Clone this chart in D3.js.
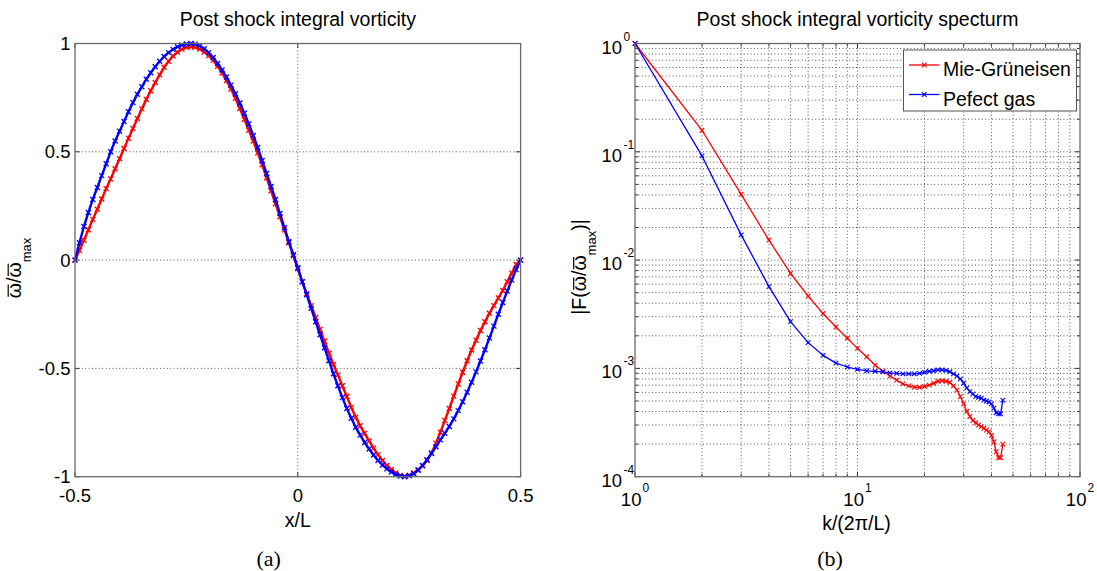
<!DOCTYPE html>
<html><head><meta charset="utf-8">
<script src="https://cdn.jsdelivr.net/npm/d3@7"></script>
<style>
html,body{margin:0;padding:0;background:#fff;}
svg{display:block;}
text{font-family:"Liberation Sans",Arial,Helvetica,sans-serif;fill:#000;}
</style>
</head><body>
<svg id="chart" width="1097" height="571"></svg>
<script>
// ---------------- data ----------------
const xSamples = d3.range(101).map(i => +(-0.5 + i * 0.01).toFixed(2));
const mieVorticity = [
  0, 0.045, 0.092, 0.14, 0.188, 0.235, 0.282, 0.33, 0.375, 0.422,
  0.468, 0.515, 0.562, 0.608, 0.654, 0.698, 0.742, 0.782, 0.82, 0.855,
  0.89, 0.918, 0.942, 0.96, 0.974, 0.982, 0.985, 0.982, 0.974, 0.961,
  0.944, 0.922, 0.895, 0.864, 0.829, 0.79, 0.747, 0.70, 0.65, 0.60,
  0.55, 0.495, 0.44, 0.38, 0.32, 0.26, 0.20, 0.14, 0.08, 0.02,
  -0.04, -0.10, -0.155, -0.21, -0.265, -0.32, -0.375, -0.43, -0.482, -0.53,
  -0.58, -0.63, -0.68, -0.725, -0.765, -0.80, -0.835, -0.868, -0.898, -0.925,
  -0.948, -0.967, -0.983, -0.994, -0.998, -0.993, -0.983, -0.968, -0.95, -0.925,
  -0.89, -0.845, -0.795, -0.74, -0.685, -0.628, -0.572, -0.518, -0.465, -0.415,
  -0.37, -0.325, -0.285, -0.245, -0.21, -0.175, -0.14, -0.10, -0.06, -0.02,
  0
];
const perfectVorticity = [
  0, 0.08, 0.155, 0.22, 0.28, 0.335, 0.39, 0.445, 0.50, 0.55,
  0.595, 0.64, 0.685, 0.727, 0.766, 0.80, 0.835, 0.865, 0.893, 0.918,
  0.94, 0.958, 0.973, 0.985, 0.993, 0.998, 1.0, 0.997, 0.989, 0.976,
  0.958, 0.935, 0.908, 0.878, 0.845, 0.808, 0.768, 0.725, 0.678, 0.628,
  0.575, 0.52, 0.46, 0.40, 0.34, 0.28, 0.215, 0.15, 0.085, 0.025,
  -0.035, -0.10, -0.16, -0.222, -0.285, -0.345, -0.405, -0.465, -0.525, -0.58,
  -0.635, -0.685, -0.73, -0.772, -0.808, -0.842, -0.872, -0.90, -0.925, -0.946,
  -0.964, -0.978, -0.99, -0.997, -1.0, -0.996, -0.986, -0.97, -0.948, -0.922,
  -0.893, -0.862, -0.83, -0.80, -0.768, -0.733, -0.695, -0.654, -0.61, -0.564,
  -0.516, -0.466, -0.414, -0.36, -0.305, -0.25, -0.196, -0.143, -0.092, -0.044,
  0
];
const waveNumbers = d3.range(1, 46);
const mieSpectrum = [
  1.0, 0.158, 0.0405, 0.0153, 0.00755, 0.00466, 0.00321, 0.00241, 0.00190, 0.00153,
  0.00128, 0.00107, 0.00094, 0.00085, 0.00078, 0.00072, 0.00069, 0.00067, 0.00067, 0.00068,
  0.00070, 0.00073, 0.00076, 0.00077, 0.00076, 0.00074, 0.00069, 0.00063, 0.00055, 0.00047,
  0.00040, 0.00036, 0.00033, 0.000315, 0.00030, 0.00029, 0.00028, 0.00027, 0.00026, 0.00024,
  0.00021, 0.00017, 0.00015, 0.00015, 0.00020
];
const perfectSpectrum = [
  1.0, 0.0916, 0.0171, 0.00569, 0.00270, 0.00173, 0.00132, 0.00112, 0.00103, 0.00098,
  0.00095, 0.00094, 0.00093, 0.00091, 0.00090, 0.00089, 0.00089, 0.00089, 0.00090, 0.00092,
  0.00094, 0.00095, 0.00097, 0.00097, 0.00096, 0.00093, 0.00089, 0.00085, 0.00080, 0.00073,
  0.00066, 0.00061, 0.00058, 0.00055, 0.00054, 0.00053, 0.00051, 0.00050, 0.00049, 0.00047,
  0.00043, 0.00039, 0.00038, 0.00038, 0.00051
];
const leftXTicks = [-0.5, 0, 0.5];
const leftYTicks = [-1, -0.5, 0, 0.5, 1];
const rightXDecades = [1, 10, 100];
const rightYDecades = [1e-4, 1e-3, 1e-2, 1e-1, 1];
const seriesNames = ["Mie-Grüneisen", "Pefect gas"];
const seriesColors = ["#ff0000", "#0000ff"];
const titles = ["Post shock integral vorticity", "Post shock integral vorticity specturm"];
const captions = ["(a)", "(b)"];

// ---------------- drawing ----------------
const svg = d3.select("#chart");
svg.append("rect").attr("width", 1097).attr("height", 571).attr("fill", "#fff");

const FONT = 18.5;
const TFONT = 19.5;
const GRID = "#444";
const BOX = "#6a6a6a";

const LB = {x0: 75, x1: 520.6, y0: 43.5, y1: 476.7};
const RB = {x0: 635, x1: 1080, y0: 43.5, y1: 476.7};

const xL = d3.scaleLinear().domain([-0.5, 0.5]).range([LB.x0, LB.x1]);
const yL = d3.scaleLinear().domain([-1, 1]).range([LB.y1, LB.y0]);
const xR = d3.scaleLog().domain([1, 100]).range([RB.x0, RB.x1]);
const yR = d3.scaleLog().domain([1e-4, 1]).range([RB.y1, RB.y0]);

function markerPath(s) { return `M${-s},${-s}L${s},${s}M${-s},${s}L${s},${-s}`; }

function grid(g, xs, ys, B, xScale, yScale) {
  const gg = g.append("g").attr("stroke", GRID).attr("stroke-width", 0.9)
    .attr("stroke-dasharray", "1,2.4").attr("fill", "none");
  xs.filter(v => { const p = xScale(v); return p > B.x0 + 1 && p < B.x1 - 1; })
    .forEach(v => gg.append("line").attr("x1", xScale(v)).attr("x2", xScale(v))
      .attr("y1", B.y0).attr("y2", B.y1));
  ys.filter(v => { const p = yScale(v); return p > B.y0 + 1 && p < B.y1 - 1; })
    .forEach(v => gg.append("line").attr("y1", yScale(v)).attr("y2", yScale(v))
      .attr("x1", B.x0).attr("x2", B.x1));
}

function ticks(g, xs, ys, B, xScale, yScale, len) {
  const tg = g.append("g").attr("stroke", "#333").attr("stroke-width", 1);
  xs.forEach(v => {
    const p = xScale(v), L = len(v);
    tg.append("line").attr("x1", p).attr("x2", p).attr("y1", B.y1).attr("y2", B.y1 - L);
    tg.append("line").attr("x1", p).attr("x2", p).attr("y1", B.y0).attr("y2", B.y0 + L);
  });
  ys.forEach(v => {
    const p = yScale(v), L = len(v);
    tg.append("line").attr("y1", p).attr("y2", p).attr("x1", B.x0).attr("x2", B.x0 + L);
    tg.append("line").attr("y1", p).attr("y2", p).attr("x1", B.x1).attr("x2", B.x1 - L);
  });
}

function box(g, B) {
  g.append("rect").attr("x", B.x0).attr("y", B.y0).attr("width", B.x1 - B.x0)
    .attr("height", B.y1 - B.y0).attr("fill", "none").attr("stroke", BOX).attr("stroke-width", 1.3);
}

function series(g, xs, ys, xScale, yScale, color, lw, ms, mw) {
  const line = d3.line().x((d, i) => xScale(xs[i])).y(d => yScale(d));
  g.append("path").datum(ys).attr("d", line).attr("fill", "none")
    .attr("stroke", color).attr("stroke-width", lw).attr("stroke-linejoin", "round");
  g.append("g").selectAll("path").data(ys).join("path")
    .attr("transform", (d, i) => `translate(${xScale(xs[i])},${yScale(d)})`)
    .attr("d", markerPath(ms)).attr("stroke", color).attr("stroke-width", mw).attr("fill", "none");
}

// rotated y label with overbars drawn on the omega glyphs
function yLabel(g, tx, ty, parts, omegaIdx) {
  const grp = g.append("g").attr("transform", `translate(${tx},${ty}) rotate(-90)`);
  const t = grp.append("text").attr("text-anchor", "middle").attr("font-size", TFONT);
  parts.forEach(p => {
    const s = t.append("tspan").text(p.text);
    if (p.size) s.attr("font-size", p.size);
    if (p.dy) s.attr("dy", p.dy);
  });
  const node = t.node();
  omegaIdx.forEach(i => {
    const e = node.getExtentOfChar(i);
    grp.append("line").attr("x1", e.x + 1.5).attr("x2", e.x + e.width - 1.5)
      .attr("y1", -12.3).attr("y2", -12.3).attr("stroke", "#000").attr("stroke-width", 1.2);
  });
}

// ===== Left panel =====
const gl = svg.append("g");
grid(gl, leftXTicks, leftYTicks, LB, xL, yL);
series(gl, xSamples, mieVorticity, xL, yL, seriesColors[0], 2.4, 2.5, 1.3);
series(gl, xSamples, perfectVorticity, xL, yL, seriesColors[1], 2.4, 2.5, 1.3);
ticks(gl, leftXTicks, leftYTicks, LB, xL, yL, () => 4.5);
box(gl, LB);

gl.append("g").selectAll("text").data(leftXTicks).join("text")
  .attr("x", d => xL(d)).attr("y", 501.7).attr("text-anchor", "middle")
  .attr("font-size", FONT).text(d => String(d));
gl.append("g").selectAll("text").data(leftYTicks).join("text")
  .attr("x", 70.5).attr("y", d => yL(d) + 6.5).attr("text-anchor", "end")
  .attr("font-size", FONT).text(d => String(d));

gl.append("text").attr("x", (LB.x0 + LB.x1) / 2).attr("y", 26).attr("text-anchor", "middle")
  .attr("font-size", TFONT).text(titles[0]);
gl.append("text").attr("x", (LB.x0 + LB.x1) / 2).attr("y", 527).attr("text-anchor", "middle")
  .attr("font-size", TFONT).text("x/L");
yLabel(gl, 20.5, 268, [{text: "ω/ω"}, {text: "max", size: 13, dy: 10}], [0, 2]);
gl.append("text").attr("x", 268.6).attr("y", 566).attr("text-anchor", "middle")
  .style("font-family", "'Liberation Serif','Times New Roman',serif")
  .attr("font-size", 22).text(captions[0]);

// ===== Right panel =====
const gr = svg.append("g");
const xMinor = xR.ticks();
const yMinor = yR.ticks();
grid(gr, xMinor, yMinor, RB, xR, yR);
series(gr, waveNumbers, mieSpectrum, xR, yR, seriesColors[0], 1.3, 2.3, 1.1);
series(gr, waveNumbers, perfectSpectrum, xR, yR, seriesColors[1], 1.3, 2.3, 1.1);
const isDecade = v => Math.abs(Math.log10(v) - Math.round(Math.log10(v))) < 1e-9;
ticks(gr, xMinor, yMinor, RB, xR, yR, v => isDecade(v) ? 5 : 3);
box(gr, RB);

rightXDecades.forEach(d => {
  const t = gr.append("text").attr("x", xR(d)).attr("y", 505.5).attr("text-anchor", "middle")
    .attr("font-size", FONT);
  t.append("tspan").text("10");
  t.append("tspan").attr("font-size", 12).attr("dy", -14).attr("dx", 1).text(Math.round(Math.log10(d)));
});
rightYDecades.forEach(d => {
  const y = yR(d) + 10;
  gr.append("text").attr("x", 622).attr("y", y).attr("text-anchor", "end")
    .attr("font-size", FONT).text("10");
  gr.append("text").attr("x", 623.5).attr("y", y - 13).attr("text-anchor", "start")
    .attr("font-size", 12).text(Math.round(Math.log10(d)));
});

gr.append("text").attr("x", (RB.x0 + RB.x1) / 2).attr("y", 26).attr("text-anchor", "middle")
  .attr("font-size", TFONT).text(titles[1]);
gr.append("text").attr("x", (RB.x0 + RB.x1) / 2 - 1).attr("y", 529.5).attr("text-anchor", "middle")
  .attr("font-size", TFONT).text("k/(2π/L)");
yLabel(gr, 586, 267, [{text: "|F(ω/ω"}, {text: "max", size: 13, dy: 10}, {text: ")|", dy: -10}], [3, 5]);
gr.append("text").attr("x", 830).attr("y", 566).attr("text-anchor", "middle")
  .style("font-family", "'Liberation Serif','Times New Roman',serif")
  .attr("font-size", 22).text(captions[1]);

// legend
const lg = gr.append("g");
lg.append("rect").attr("x", 903.5).attr("y", 50).attr("width", 173).attr("height", 61)
  .attr("fill", "#fff").attr("stroke", "#555").attr("stroke-width", 1);
const legendRows = [65, 94.5];
seriesNames.forEach((name, i) => {
  const yy = legendRows[i];
  lg.append("line").attr("x1", 909).attr("x2", 939.5).attr("y1", yy).attr("y2", yy)
    .attr("stroke", seriesColors[i]).attr("stroke-width", 1.3);
  lg.append("path").attr("transform", `translate(924.25,${yy})`).attr("d", markerPath(2.3))
    .attr("stroke", seriesColors[i]).attr("stroke-width", 1.1).attr("fill", "none");
  lg.append("text").attr("x", 943).attr("y", yy + 11).attr("font-size", TFONT).text(name);
});
</script>
</body></html>
